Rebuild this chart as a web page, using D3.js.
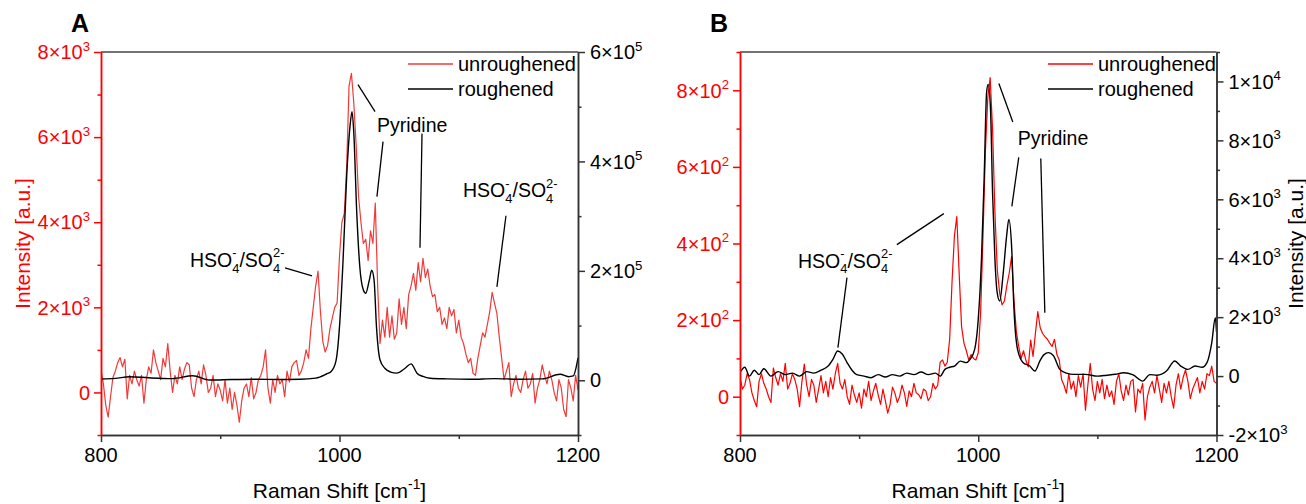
<!DOCTYPE html>
<html><head><meta charset="utf-8">
<script src="https://cdn.jsdelivr.net/npm/d3@7"></script>
<style>body{margin:0;background:#fff;} svg{display:block;font-family:"Liberation Sans",Arial,sans-serif;}</style>
</head><body><svg id="c" width="1306" height="504"></svg>
<script>
// ---------------- DATA ----------------
const seriesNames = ["unroughened", "roughened"];
const xTicks = [800, 1000, 1200];
const xMinorTicks = [900, 1100];
const xTickLabels = ["800", "1000", "1200"];

// shared wavenumber grid for the noisy (unroughened) spectra
const gridX = [800,802,804,806,808,810,812,814,816,818,820,822,824,826,828,830,832,834,836,838,
840,842,844,846,848,850,852,854,856,858,860,862,864,866,868,870,872,874,876,878,
880,882,884,886,888,890,892,894,896,898,900,902,904,906,908,910,912,914,916,918,
920,922,924,926,928,930,932,934,936,938,940,942,944,946,948,950,952,954,956,958,
960,962,964,966,968,970,972,974,976,978,980,982,984,986,988,990,992,994,996,998,
1000,1002,1004,1006,1008,1010,1012,1014,1016,1018,1020,1022,1024,1026,1028,1030,1032,1034,1036,1038,
1040,1042,1044,1046,1048,1050,1052,1054,1056,1058,1060,1062,1064,1066,1068,1070,1072,1074,1076,1078,
1080,1082,1084,1086,1088,1090,1092,1094,1096,1098,1100,1102,1104,1106,1108,1110,1112,1114,1116,1118,
1120,1122,1124,1126,1128,1130,1132,1134,1136,1138,1140,1142,1144,1146,1148,1150,1152,1154,1156,1158,
1160,1162,1164,1166,1168,1170,1172,1174,1176,1178,1180,1182,1184,1186,1188,1190,1192,1194,1196,1198,1200];

// Panel A – unroughened (left axis)
const aUnrough = [530,200,-300,-580,-100,350,500,700,820,600,
780,-150,400,200,500,300,150,400,-250,300,
600,450,1000,700,500,300,800,600,1150,500,
0,400,200,600,300,550,700,650,100,-100,
300,500,200,650,400,0,100,400,-100,200,
50,-200,300,-250,100,-400,0,-300,-700,-200,
100,200,-100,350,-150,0,300,400,600,1000,
100,-250,300,0,400,200,300,-100,500,250,
600,700,750,400,500,700,1000,800,1500,2000,
2500,2850,1900,1200,950,1100,1500,1750,2000,2100,
3200,4000,4200,5300,7200,7500,6800,5800,4600,4000,
3500,3600,3100,3800,3500,4450,2500,1150,1700,1300,
2000,1300,1800,1250,1400,2200,1600,2000,1500,2300,
2500,2800,2400,3050,2600,3150,2700,2900,2500,2250,
2300,1900,2000,1600,1750,1500,2000,1800,1950,1400,
1700,1300,1150,900,700,800,450,400,800,1100,
1400,1300,1600,1900,2350,2100,1850,1300,800,300,
500,700,-100,200,400,100,0,300,500,100,
200,450,-250,100,300,650,400,200,500,300,
0,-200,300,100,-400,-570,300,100,-200,400,
60];

// Panel A – roughened (right axis)
const aRoughX = [800,812,824,840,860,877,891,910,930,950,967,980,989,993,997,1000,1003,1006,1008.8,1010.5,
1012,1014.4,1017,1020,1022,1025,1027,1029,1031,1034,1038,1043,1048,1055,1060,1065,1070,1076,1090,1110,
1130,1150,1170,1185,1192,1196,1200];
const aRough = [2400,3500,6600,4500,3000,8400,500,1500,2000,1500,1800,4000,11500,16000,35000,98000,220000,372000,464000,491000,
452000,310000,208000,165000,159000,183000,201000,183000,98000,37000,22000,15000,13000,22000,30000,13000,7000,3700,2500,1800,
3000,2000,2500,11000,6600,8000,41000];

// Panel B – unroughened (left axis)
const bUnrough = [52,20,30,60,45,10,-10,-26,40,60,
35,20,0,-15,75,50,30,60,40,87,
20,35,60,45,20,-26,40,85,30,0,
45,30,-15,20,55,10,40,0,50,20,
60,87,35,20,45,0,-20,30,5,-15,
10,-30,20,0,40,-10,15,35,5,-20,
20,-10,-43,-20,25,10,-15,0,30,10,
-25,15,0,35,10,5,-5,20,15,-10,
0,35,20,30,90,96,80,90,150,300,
420,470,320,183,140,120,96,110,100,96,
114,220,420,640,780,833,700,480,330,270,
240,250,290,323,366,250,170,130,100,120,
95,78,148,105,166,222,180,165,157,150,
140,131,150,110,96,44,30,9,60,20,
40,0,55,25,60,-35,30,87,20,-10,
40,10,45,-5,30,0,15,-20,40,60,
15,-10,30,5,40,45,-40,20,10,35,
-61,0,25,40,10,55,20,-15,35,10,
40,0,-30,30,60,20,50,70,40,-5,
20,35,50,10,40,20,60,55,80,40,
35];

// Panel B – roughened (right axis)
const bRoughX = [800,804,808,812,816,820,826,832,838,844,850,856,862,868,874,878,882,886,890,894,
898,904,910,916,922,928,934,940,946,952,958,964,968,972,976,980,985,990,993,997,
1000,1002.7,1005,1007,1008.3,1010.3,1012,1014,1015.9,1018,1021,1023.8,1025.7,1028,1030,1033,1037.7,1043.3,1047.5,1051.7,
1055,1059,1063,1068.5,1074,1080,1090,1100,1108,1115,1122,1130,1138,1144,1150,1158,1165,1170,1176,1182,
1188,1192,1196,1199,1200];
const bRough = [115,300,0,200,50,250,0,150,50,100,0,150,100,200,340,567,850,740,450,200,
50,0,-55,50,-30,50,0,100,50,136,50,100,0,227,300,340,509,455,560,907,
1925,3960,6790,9620,9900,9060,6230,3960,2830,2550,3510,4750,5320,4410,2265,907,455,340,170,510,
720,795,700,227,100,58,58,0,30,60,115,40,-170,50,30,170,510,340,227,340,
300,455,1130,1980,1500];

// Axis ticks and labels
const aLeftTicks = [0, 2000, 4000, 6000, 8000];
const aLeftLabels = ["0", "2×10^3", "4×10^3", "6×10^3", "8×10^3"];
const aLeftMinor = [-1000, 1000, 3000, 5000, 7000];
const aRightTicks = [0, 200000, 400000, 600000];
const aRightLabels = ["0", "2×10^5", "4×10^5", "6×10^5"];
const aRightMinor = [-100000, 100000, 300000, 500000];
const bLeftTicks = [0, 200, 400, 600, 800];
const bLeftLabels = ["0", "2×10^2", "4×10^2", "6×10^2", "8×10^2"];
const bLeftMinor = [-100, 100, 300, 500, 700, 900];
const bRightTicks = [-2000, 0, 2000, 4000, 6000, 8000, 10000];
const bRightLabels = ["-2×10^3", "0", "2×10^3", "4×10^3", "6×10^3", "8×10^3", "1×10^4"];
const bRightMinor = [-1000, 1000, 3000, 5000, 7000, 9000, 11000];

// Annotations (data units: wavenumber, left-axis intensity)
const aPyridineText = [1031.4, 6118];
const aPyridineLeaders = [[1015.5,7235,1029.8,6600],[1036.5,5894,1031.4,4600],[1069.2,6082,1067.5,3400]];
const aSulfateTexts = [[874.6,2953],[1103.6,4593]];
const aSulfateLeaders = [[954.3,2929,977,2741],[1139.6,4153,1132,2482]];
const bPyridineText = [1033.2, 656];
const bPyridineLeaders = [[1017.3,818,1029,717],[1034,625,1028.2,497],[1052.5,622,1055.9,219]];
const bSulfateTexts = [[848.7,337]];
const bSulfateLeaders = [[889.8,311,882.2,128],[931.7,397,971.1,478]];

// ---------------- DRAW ----------------
const svg = d3.select("#c");
const FS_TICK = 20, FS_TITLE = 21, FS_ANN = 19.5, FS_LEG = 20;

function supText(sel, str, fs) {
  const p = str.split("^");
  sel.append("tspan").text(p[0]);
  if (p[1]) sel.append("tspan").attr("font-size", fs * 0.66).attr("dy", -fs * 0.42).text(p[1]);
}

function sulfate(g, x, y, fs) {
  const s = fs * 0.66;
  const t = g.append("text").attr("x", x).attr("y", y).attr("font-size", fs).attr("fill", "#000");
  t.append("tspan").text("HSO");
  t.append("tspan").attr("font-size", s).attr("dy", fs * 0.3).text("4");
  t.append("tspan").attr("font-size", s).attr("dx", -0.556 * s).attr("dy", -fs * 0.78).text("-");
  t.append("tspan").attr("dx", (0.556 - 0.333) * s).attr("dy", fs * 0.48).text("/SO");
  t.append("tspan").attr("font-size", s).attr("dy", fs * 0.3).text("4");
  t.append("tspan").attr("font-size", s).attr("dx", -0.556 * s).attr("dy", -fs * 0.78).text("2-");
}

function drawPanel(cfg) {
  const x = d3.scaleLinear().domain([800, 1200]).range([cfg.left, cfg.right]);
  const yL = d3.scaleLinear().domain(cfg.leftDomain).range([cfg.bottom, cfg.top]);
  const yR = d3.scaleLinear().domain(cfg.rightDomain).range([cfg.bottom, cfg.top]);
  const g = svg.append("g");
  const clipId = "clip" + cfg.letter;
  svg.append("clipPath").attr("id", clipId).append("rect")
    .attr("x", cfg.left).attr("y", cfg.top).attr("width", cfg.right - cfg.left).attr("height", cfg.bottom - cfg.top);

  const dg = g.append("g").attr("clip-path", `url(#${clipId})`);
  dg.append("path").datum(gridX.map((v, i) => [v, cfg.redY[i]]))
    .attr("fill", "none").attr("stroke", cfg.redColor).attr("stroke-width", 1.2).attr("stroke-linejoin", "round")
    .attr("d", d3.line().x(d => x(d[0])).y(d => yL(d[1])));
  dg.append("path").datum(cfg.blackX.map((v, i) => [v, cfg.blackY[i]]))
    .attr("fill", "none").attr("stroke", "#000").attr("stroke-width", 1.4).attr("stroke-linejoin", "round")
    .attr("d", d3.line().curve(d3.curveMonotoneX).x(d => x(d[0])).y(d => yR(d[1])));

  // top border
  g.append("line").attr("x1", cfg.left).attr("x2", cfg.right).attr("y1", cfg.top).attr("y2", cfg.top)
    .attr("stroke", "#444").attr("stroke-width", 1.5);

  // bottom axis
  const styleAxis = (sel, col) => { sel.selectAll("path,line").attr("stroke", col).attr("stroke-width", 1.5); sel.selectAll("text").remove(); };
  g.append("g").attr("transform", `translate(0,${cfg.bottom})`)
    .call(d3.axisBottom(x).tickValues(xMinorTicks).tickSize(4).tickSizeOuter(0)).call(s => styleAxis(s, "#333"));
  g.append("g").attr("transform", `translate(0,${cfg.bottom})`)
    .call(d3.axisBottom(x).tickValues(xTicks).tickSize(7).tickSizeOuter(0)).call(s => styleAxis(s, "#333"));
  g.selectAll(null).data(xTicks).enter().append("text")
    .attr("x", d => x(d)).attr("y", cfg.bottom + 27).attr("text-anchor", "middle")
    .attr("font-size", FS_TICK).attr("fill", "#000").text((d, i) => xTickLabels[i]);
  const xt = g.append("text").attr("x", (cfg.left + cfg.right) / 2).attr("y", cfg.bottom + 63)
    .attr("text-anchor", "middle").attr("font-size", FS_TITLE).attr("fill", "#000");
  xt.append("tspan").text("Raman Shift [cm");
  xt.append("tspan").attr("font-size", FS_TITLE * 0.66).attr("dy", -FS_TITLE * 0.42).text("-1");
  xt.append("tspan").attr("dy", FS_TITLE * 0.42).text("]");

  // left axis (red)
  g.append("g").attr("transform", `translate(${cfg.left},0)`)
    .call(d3.axisLeft(yL).tickValues(cfg.leftMinor).tickSize(3.5).tickSizeOuter(0)).call(s => styleAxis(s, "#ff0000"));
  g.append("g").attr("transform", `translate(${cfg.left},0)`)
    .call(d3.axisLeft(yL).tickValues(cfg.leftTicks).tickSize(7).tickSizeOuter(0)).call(s => styleAxis(s, "#ff0000"));
  cfg.leftTicks.forEach((v, i) => {
    const t = g.append("text").attr("x", cfg.left - 11).attr("y", yL(v)).attr("dy", "0.36em")
      .attr("text-anchor", "end").attr("font-size", FS_TICK).attr("fill", "#ff0000");
    supText(t, cfg.leftLabels[i], FS_TICK);
  });

  // right axis (black)
  g.append("g").attr("transform", `translate(${cfg.right},0)`)
    .call(d3.axisRight(yR).tickValues(cfg.rightMinor).tickSize(3.5).tickSizeOuter(0)).call(s => styleAxis(s, "#333"));
  g.append("g").attr("transform", `translate(${cfg.right},0)`)
    .call(d3.axisRight(yR).tickValues(cfg.rightTicks).tickSize(7).tickSizeOuter(0)).call(s => styleAxis(s, "#333"));
  cfg.rightTicks.forEach((v, i) => {
    const t = g.append("text").attr("x", cfg.right + 12).attr("y", yR(v)).attr("dy", "0.36em")
      .attr("text-anchor", "start").attr("font-size", FS_TICK).attr("fill", "#000");
    supText(t, cfg.rightLabels[i], FS_TICK);
  });

  // axis title
  const midY = (cfg.top + cfg.bottom) / 2;
  g.append("text").attr("transform", `translate(${cfg.yTitleX},${midY}) rotate(-90)`)
    .attr("text-anchor", "middle").attr("font-size", FS_TITLE).attr("fill", cfg.yTitleColor).text("Intensity [a.u.]");

  // panel letter
  g.append("text").attr("x", cfg.left - 30).attr("y", 32).attr("font-size", 25).attr("font-weight", "bold")
    .attr("fill", "#000").text(cfg.letter);

  // legend
  const legCols = [cfg.redColor, "#000"];
  seriesNames.forEach((n, i) => {
    const ly = cfg.top + 12 + i * 25;
    g.append("line").attr("x1", cfg.right - cfg.legOff).attr("x2", cfg.right - cfg.legOff + 45)
      .attr("y1", ly).attr("y2", ly).attr("stroke", legCols[i]).attr("stroke-width", 1.4);
    g.append("text").attr("x", cfg.right - cfg.legOff + 50).attr("y", ly).attr("dy", "0.36em")
      .attr("font-size", FS_LEG).attr("fill", "#000").text(n);
  });

  // annotations
  const leaders = cfg.pyLeaders.concat(cfg.soLeaders);
  g.selectAll(null).data(leaders).enter().append("line")
    .attr("x1", d => x(d[0])).attr("y1", d => yL(d[1])).attr("x2", d => x(d[2])).attr("y2", d => yL(d[3]))
    .attr("stroke", "#000").attr("stroke-width", 1.3);
  g.append("text").attr("x", x(cfg.pyText[0])).attr("y", yL(cfg.pyText[1]))
    .attr("font-size", FS_ANN).attr("fill", "#000").text("Pyridine");
  cfg.soTexts.forEach(p => sulfate(g, x(p[0]), yL(p[1]), FS_ANN));
}

drawPanel({
  letter: "A", left: 101, right: 578, top: 52, bottom: 435,
  leftDomain: [-1000, 8000], rightDomain: [-100000, 600000],
  redY: aUnrough, redColor: "#f03a3a", blackX: aRoughX, blackY: aRough,
  leftTicks: aLeftTicks, leftLabels: aLeftLabels, leftMinor: aLeftMinor,
  rightTicks: aRightTicks, rightLabels: aRightLabels, rightMinor: aRightMinor,
  yTitleX: 30, yTitleColor: "#ff0000", legOff: 170,
  pyText: aPyridineText, pyLeaders: aPyridineLeaders, soTexts: aSulfateTexts, soLeaders: aSulfateLeaders
});
drawPanel({
  letter: "B", left: 740, right: 1216.5, top: 52, bottom: 435,
  leftDomain: [-100, 900], rightDomain: [-2000, 11000],
  redY: bUnrough, redColor: "#ff0000", blackX: bRoughX, blackY: bRough,
  leftTicks: bLeftTicks, leftLabels: bLeftLabels, leftMinor: bLeftMinor,
  rightTicks: bRightTicks, rightLabels: bRightLabels, rightMinor: bRightMinor,
  yTitleX: 1303, yTitleColor: "#000", legOff: 168.5,
  pyText: bPyridineText, pyLeaders: bPyridineLeaders, soTexts: bSulfateTexts, soLeaders: bSulfateLeaders
});
</script></body></html>
